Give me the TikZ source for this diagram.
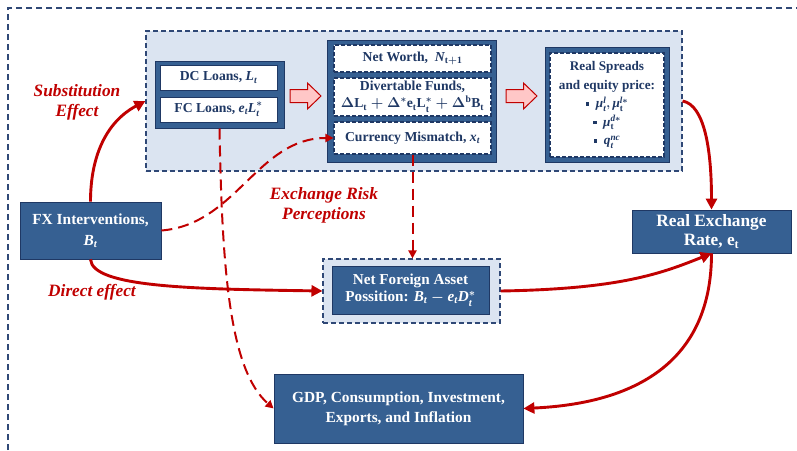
\documentclass[tikz,border=0pt]{standalone}
\usepackage{fontspec}
\setmainfont{Liberation Serif}
\usepackage{amsmath}
\usetikzlibrary{arrows.meta}
\definecolor{boxblue}{RGB}{54,96,146}
\definecolor{navy}{RGB}{31,56,100}
\definecolor{regionfill}{RGB}{219,228,241}
\definecolor{regionline}{RGB}{47,72,118}
\definecolor{myred}{RGB}{192,0,0}
\definecolor{pinkfill}{RGB}{255,199,199}
\tikzset{
  frame/.style={draw=regionline, line width=1.1pt, dash pattern=on 6pt off 4pt},
  regionbox/.style={draw=regionline, fill=regionfill, line width=1.1pt, dash pattern=on 5pt off 3pt, inner sep=0pt},
  holder/.style={draw=navy, fill=boxblue, line width=1pt, inner sep=0pt},
  bluebox/.style={draw=navy, fill=boxblue, line width=0.8pt, text=white, align=center, inner sep=0pt},
  whitebox/.style={draw=navy, fill=white, line width=0.8pt, text=navy, align=center, inner sep=0pt,
    font=\fontsize{13.7}{15.5}\selectfont\bfseries\boldmath},
  dwhitebox/.style={whitebox, line width=1.1pt, dash pattern=on 4pt off 2pt},
  bigfont/.style={font=\fontsize{15.4}{20}\selectfont\bfseries\boldmath},
  lbl/.style={text=myred, align=center, inner sep=0pt, font=\fontsize{17.3}{20}\selectfont\bfseries\itshape},
  thickred/.style={draw=myred, line width=2.9pt, -{Triangle[length=11pt,width=11pt]}},
  dashred/.style={draw=myred, line width=2pt, dash pattern=on 11pt off 6pt, -{Triangle[length=8pt,width=8pt]}},
  fatarrow/.style={draw=myred, fill=pinkfill, line width=1pt, line join=miter},
}
\newcommand{\sqb}{\rule[0.15em]{3.6pt}{3.6pt}}
\newcommand{\mv}[1]{\mathit{#1}}
\newcommand{\mmu}{\text{\itshape μ}}
\begin{document}
\begin{tikzpicture}[x=1pt,y=-1pt]
\useasboundingbox (0,0) rectangle (797,450);
\begin{scope}
\clip (0,0) rectangle (797,450);
\draw[frame] (8,470) -- (8,8) -- (830,8);
\end{scope}

% bank block region
\node[regionbox, minimum width=536pt, minimum height=140pt] (region) at (414,101) {};

% loans
\node[holder, minimum width=129pt, minimum height=67pt] (loans) at (219.5,94.5) {};
\node[whitebox, minimum width=117pt, minimum height=25pt] (dc) at (218.5,77.5) {DC Loans, $\mv{L}_{\mv{t}}$};
\node[whitebox, minimum width=117pt, minimum height=25pt] (fc) at (218.5,109.5) {FC Loans, $\mv{e}_{\mv{t}}\mv{L}_{\mv{t}}^{*}$};

% balance sheet
\node[holder, minimum width=169pt, minimum height=122pt] (bank) at (411.5,101) {};
\node[dwhitebox, minimum width=157pt, minimum height=27pt] (nw) at (412.5,58.5) {Net Worth,\ \ $\mv{N}_{\mathrm{t+1}}$};
\node[dwhitebox, minimum width=157pt, minimum height=38pt,
  font=\fontsize{13.7}{17}\selectfont\bfseries\boldmath] (div) at (412.5,97) {Divertable Funds,\\ $\Delta\mathrm{L_t}+\Delta^{*}\mathrm{e_tL_t^{*}}+\Delta^{\mathrm{b}}\mathrm{B_t}$};
\node[dwhitebox, minimum width=157pt, minimum height=32pt] (cm) at (412.5,138) {Currency Mismatch, $\mv{x}_{\mv{t}}$};

% spreads
\node[holder, minimum width=124pt, minimum height=115pt] (sp) at (607,104.5) {};
\node[dwhitebox, minimum width=114pt, minimum height=104pt,
  font=\fontsize{13.2}{18.5}\selectfont\bfseries\boldmath] (spin) at (607,105)
  {Real Spreads\\ and equity price:\\ \sqb\ \ $\mmu_{\mv{t}}^{\mv{l}}, \mmu_{\mathrm t}^{\mv{l}*}$\\ \sqb\ \ $\mmu_{\mathrm t}^{\mv{d}*}$\\ \sqb\ \ $\mv{q}_{\mv{t}}^{\mv{nc}}$};

% fat arrows
\draw[fatarrow] (290,89.5) -- (307.5,89.5) -- (307.5,83) -- (321,96) -- (307.5,109) -- (307.5,102.5) -- (290,102.5) -- cycle;
\draw[fatarrow] (506,89.5) -- (523.5,89.5) -- (523.5,83) -- (537,96) -- (523.5,109) -- (523.5,102.5) -- (506,102.5) -- cycle;

% other boxes
\node[bluebox, minimum width=141pt, minimum height=57pt, font=\fontsize{15.4}{21}\selectfont\bfseries\boldmath] (fx) at (90.5,230.5) {FX Interventions,\\ $\mv{B}_{\mv{t}}$};
\node[bluebox, minimum width=159pt, minimum height=43pt, font=\fontsize{17.3}{19}\selectfont\bfseries\boldmath] (re) at (711.5,231.5) {Real Exchange\\ Rate, $\mathrm{e_t}$};
\node[regionbox, minimum width=177pt, minimum height=64pt] (nfaout) at (411.5,291) {};
\node[bluebox, minimum width=157pt, minimum height=48pt, font=\fontsize{15.2}{17.5}\selectfont\bfseries\boldmath] (nfa) at (410.5,290) {Net Foreign Asset\\ Possition: $\mv{B}_{\mv{t}}-\mv{e}_{\mv{t}}\mv{D}_{\mv{t}}^{*}$};
\node[bluebox, bigfont, minimum width=249pt, minimum height=69pt] (gdp) at (398.5,408.5) {GDP, Consumption, Investment,\\ Exports, and Inflation};

% labels
\node[lbl] (lsub) at (77,102) {Substitution\\ Effect};
\node[lbl] (lexr) at (324,205) {Exchange Risk\\ Perceptions};
\node[lbl] (ldir) at (92,292) {Direct effect};

% connectors
\draw[thickred] (fx.north) to[out=90, in=208] (region.west);
\draw[thickred] (fx.south) .. controls +(2,28) and +(-130,-2) .. (nfaout.west);
\draw[thickred] (nfaout.east) .. controls +(120,-2) and +(-50,20) .. (re.south);
\draw[thickred] (region.east) .. controls +(22,4) and +(0,-60) .. (re.north);
\draw[thickred] (re.south) .. controls +(0,110) and +(110,-5) .. (gdp.east);
\draw[dashred] (fx.east) .. controls +(75,-6) and +(-76,0) .. (cm.west);
\draw[dashred] (loans.south) .. controls +(2.5,142) and +(-44,-38.5) .. (gdp.west);
\draw[dashred] (cm.south) -- (cm.south |- nfaout.north);
\end{tikzpicture}
\end{document}
